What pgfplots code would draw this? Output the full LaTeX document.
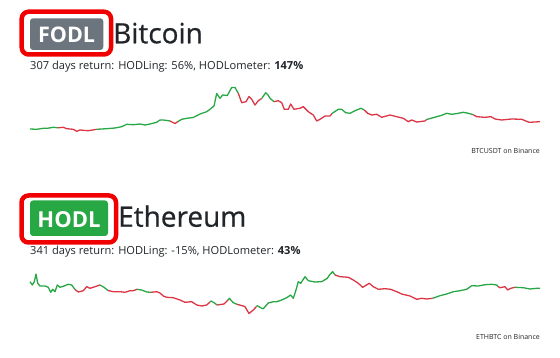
\documentclass[border=0pt]{standalone}
\usepackage{pgfplots}
\pgfplotsset{compat=1.18}
\usepackage{fontspec}
\setmainfont{Open Sans}
\newfontfamily\headfont[FakeBold=0.6]{Open Sans}
\definecolor{upgreen}{HTML}{28A745}
\definecolor{downred}{HTML}{DC3545}
\definecolor{badgegray}{HTML}{6C757D}
\definecolor{outline}{HTML}{F00000}
\definecolor{ink}{HTML}{212529}
\begin{document}
\begin{tikzpicture}
\useasboundingbox (0,0) rectangle (560pt,358pt);
\begin{axis}[
  at={(0,0)}, anchor=south west,
  width=560pt, height=358pt, scale only axis,
  xmin=0, xmax=560, ymin=0, ymax=358, y dir=reverse,
  hide axis, clip=false,
  every axis plot/.append style={line width=1.3pt, line join=round, no marks},
]
% ---------------- Bitcoin (BTCUSDT) ----------------
\addplot[upgreen] coordinates {(30,129) (36.7,129.3) (43.3,128.3) (48,128.2) (53.3,127.3) (58,127.8)};
\addplot[downred] coordinates {(58,127.8) (63.3,127.3) (66.7,128.7) (73.3,129.3) (76.7,131.3) (80,130) (84,130.4) (88.3,130.7) (96.7,129.3)};
\addplot[upgreen] coordinates {(96.7,129.3) (106.7,128.7) (115,128) (121.7,126.7) (126.7,124.3) (133.3,124.7) (140,124) (145,125) (150,124) (156.7,122.3) (160,120) (163.3,120) (168.3,120.7) (170,121)};
\addplot[downred] coordinates {(170,121) (175,123.5) (178,121.5)};
\addplot[upgreen] coordinates {(178,121.5) (181.7,119.3) (186.7,118.3) (193.3,117.5) (200,114) (206.7,111.7) (210,109.3) (214,106) (216.7,93.5) (220,98.3) (222.7,95) (227.3,95.5) (231.7,87.5) (235,87.5) (238.3,93.3)};
\addplot[downred] coordinates {(238.3,93.3) (241.7,102.7) (246,101.7) (249,96.5) (251.7,99.3) (255,105) (258.3,100.7) (261.7,98.5)};
\addplot[upgreen] coordinates {(261.7,98.5) (265.7,92.7) (268,95) (270,98.3) (274,101.7)};
\addplot[downred] coordinates {(274,101.7) (278.3,100.7) (281.7,102.7) (284.3,109.3) (288.3,109.3) (290.7,104) (294,109.3) (300,108.3) (303.3,106.7) (308.3,111.7) (313.3,115) (316.7,121) (320,119.3) (325,116) (330,116) (332,113.5)};
\addplot[upgreen] coordinates {(332,113.5) (338.3,109.3) (341.7,109.3) (345.7,112.7) (350,113.3) (355,110.7) (361,108.3) (364.3,110)};
\addplot[downred] coordinates {(364.3,110) (367.7,113.3) (371.7,115) (376.7,114.3) (381.7,117.3) (390,115) (396.7,116.7) (403.3,118.3) (408.3,121.7) (411.7,120) (416.7,122) (425,121) (426.5,119.5)};
\addplot[upgreen] coordinates {(426.5,119.5) (436.7,116.7) (441.7,115.3) (446.7,113.3) (451.7,114.3) (458.3,113.3) (463.3,112.3) (468.3,113.3) (473.3,114.7)};
\addplot[downred] coordinates {(473.3,114.7) (476.7,116.7) (485,117.3) (491,116.7) (495,119) (501.7,120) (511.7,119) (521.7,119.3) (529,122.3) (535,122) (540,121.7)};
% ---------------- Ethereum (ETHBTC) ----------------
\addplot[upgreen] coordinates {(30,281.7) (32.3,285) (34.3,281.7) (36,274) (37.7,283.3) (40,286) (45,286) (48.3,287.3) (50.7,292.3) (52.7,289.3) (55,291.7) (57.3,285) (60,287.3) (64,286) (68.3,284.3) (71.7,285) (75,289.5)};
\addplot[downred] coordinates {(75,289.5) (78.3,292) (83.3,290.7) (86.7,286.7) (90,288.3) (95,286.7) (100,285)};
\addplot[upgreen] coordinates {(100,285) (104,287.3) (108,290.5)};
\addplot[downred] coordinates {(108,290.5) (113.3,291.7) (120,291.7) (125,292.3) (130,290.7) (133.3,290.7) (137,289.3)};
\addplot[upgreen] coordinates {(137,289.3) (141.7,290) (146.7,292) (151,292.3)};
\addplot[downred] coordinates {(151,292.3) (156.7,291.7) (160,293) (163.3,296) (166.7,297.3) (173.3,297.7) (180,300) (185,302.3) (191.7,301.7) (196.7,305) (201.7,306) (206.7,305) (210,302)};
\addplot[upgreen] coordinates {(210,302) (211,301) (215,303.3) (217,305)};
\addplot[downred] coordinates {(217,305) (224,304) (228,300)};
\addplot[upgreen] coordinates {(228,300) (229.3,298.3) (233.3,302.7) (237,304.3)};
\addplot[downred] coordinates {(237,304.3) (243.3,306) (245,306.7) (249,313.5) (253.3,310) (256.5,306.5)};
\addplot[upgreen] coordinates {(256.5,306.5) (257.3,305.7) (261.7,308.3) (263.3,308.7) (268.3,303) (273.3,301.7) (276.7,301.7) (281.7,300) (286.7,297.7) (290.7,295) (293.3,298.3) (296,290) (298.3,281.7) (300.7,283.3) (305,276.7) (308.3,280.7) (315,282) (321.7,281.7) (327.3,278.3) (330,274.3) (332.7,271.7) (335,275)};
\addplot[downred] coordinates {(335,275) (340,276.7) (348.3,277.3) (353.3,280) (358.3,283.3) (362.7,287.3) (369.3,283.3) (373.3,286.7) (378.3,289.3) (385,288.7) (390.7,289.3) (396.7,291.7) (401.7,294) (410,296) (416.7,299.3) (421.7,298.3) (426.7,299) (432.7,298.3)};
\addplot[upgreen] coordinates {(432.7,298.3) (440,295.7) (446.7,294) (453.3,291.7) (460,290.7) (466.7,289.3) (471.7,285.7) (478.3,286) (485,284.7) (491.7,284.3) (496.7,285) (498,286.5)};
\addplot[downred] coordinates {(498,286.5) (500,287.7) (505,286.7) (507.7,290) (510.7,288.3) (515,287.3)};
\addplot[upgreen] coordinates {(515,287.3) (523.3,287.7) (530,289) (536.7,288.3) (540,288.3)};
% ---------------- Headers ----------------
% Bitcoin badge
\draw[outline, line width=4.5pt, rounded corners=7pt] (axis cs:21.7,11.7) rectangle (axis cs:111,54.5);
\fill[badgegray, rounded corners=3pt] (axis cs:30,18.3) rectangle (axis cs:103.3,50);
\node[anchor=base, text=white, font=\fontsize{21.5}{24}\selectfont\bfseries, inner sep=0pt] at (axis cs:66.6,42.8) {FODL};
\node[anchor=base west, text=ink, font=\headfont\fontsize{28}{32}\selectfont, inner sep=0pt] at (axis cs:113,43.3) {Bitcoin};
\node[anchor=base west, text=ink, font=\fontsize{11.1}{13}\selectfont, inner sep=0pt] at (axis cs:30,70) {307 days return: HODLing: 56\%, HODLometer: \textbf{147\%}};
\node[anchor=base east, text=ink, font=\fontsize{7}{8}\selectfont, inner sep=0pt] at (axis cs:540,153.5) {BTCUSDT on Binance};
% Ethereum badge
\draw[outline, line width=4.5pt, rounded corners=7pt] (axis cs:21.5,195.5) rectangle (axis cs:116,242.5);
\fill[upgreen, rounded corners=3pt] (axis cs:30,200.5) rectangle (axis cs:108,236);
\node[anchor=base, text=white, font=\fontsize{22}{24}\selectfont\bfseries, inner sep=0pt] at (axis cs:69,227.3) {HODL};
\node[anchor=base west, text=ink, font=\headfont\fontsize{28}{32}\selectfont, inner sep=0pt] at (axis cs:118,226.7) {Ethereum};
\node[anchor=base west, text=ink, font=\fontsize{11.1}{13}\selectfont, inner sep=0pt] at (axis cs:30,254.5) {341 days return: HODLing: -15\%, HODLometer: \textbf{43\%}};
\node[anchor=base east, text=ink, font=\fontsize{7}{8}\selectfont, inner sep=0pt] at (axis cs:540,339.5) {ETHBTC on Binance};
\end{axis}
\end{tikzpicture}
\end{document}
